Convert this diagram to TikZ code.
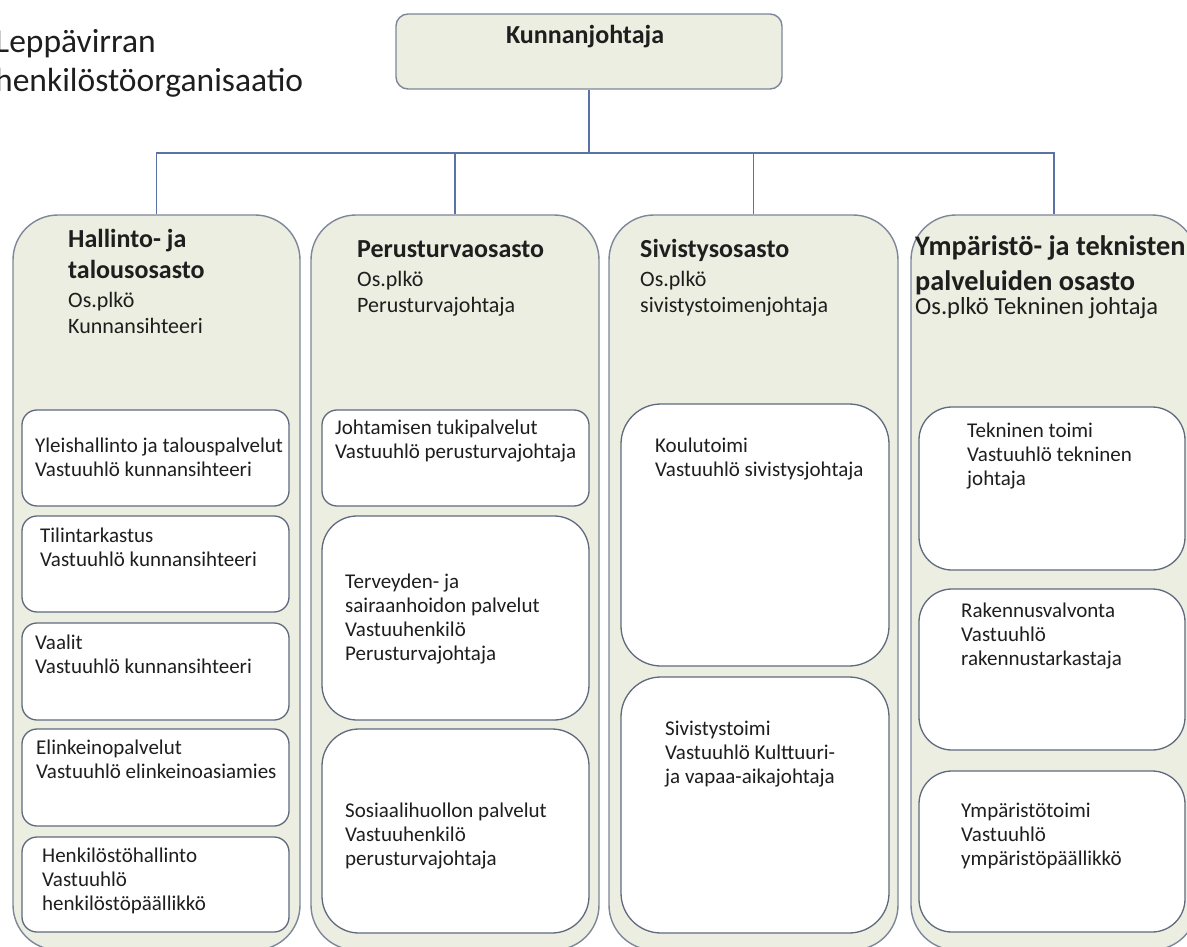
\documentclass[tikz,border=0pt]{standalone}
\usepackage{fontspec}
\setmainfont{Carlito}
\definecolor{colfill}{HTML}{EBEEE0}
\definecolor{colline}{HTML}{7D8799}
\definecolor{boxline}{HTML}{5F6A7E}
\definecolor{connc}{HTML}{5A72A6}
\definecolor{txt}{HTML}{1E1E1E}
\newcommand\titlefnt{\fontsize{33.5}{39}\selectfont}
\newcommand\hdfnt{\bfseries\fontsize{26}{31}\selectfont}
\newcommand\hdbigfnt{\bfseries\fontsize{28.3}{35}\selectfont}
\newcommand\subfnt{\fontsize{22}{26}\selectfont}
\newcommand\subbigfnt{\fontsize{24.5}{28}\selectfont}
\newcommand\inbfnt{\fontsize{21}{24}\selectfont}
\begin{document}
\begin{tikzpicture}[x=1pt,y=-1pt,
  colbox/.style={draw=colline, line width=1.4pt, fill=colfill, rounded corners=45pt, inner sep=0pt},
  topbox/.style={draw=colline, line width=1.4pt, fill=colfill, rounded corners=12pt, inner sep=0pt},
  inbox/.style={draw=boxline, line width=1.3pt, fill=white, rounded corners=#1, inner sep=0pt},
  inbox/.default=15pt,
  lbl/.style={anchor=north west, inner sep=0pt, align=left, text=txt},
  connline/.style={draw=connc, line width=1.2pt}
]
\useasboundingbox (0,0) rectangle (1187,947);
\clip (0,0) rectangle (1187,947);
\fill[white] (0,0) rectangle (1187,947);

% title
\node[lbl, font=\titlefnt] (title) at (-5,24.7) {\strut Leppävirran\\henkilöstöorganisaatio};

% top box
\node[topbox, minimum width=386pt, minimum height=75pt] (kj) at (589,51.5) {};
\node[anchor=base, inner sep=0pt, text=txt, font=\hdfnt] (kjt) at (585,44) {Kunnanjohtaja};

% columns
\node[colbox, minimum width=287pt, minimum height=735pt] (c1) at (156.5,582.5) {};
\node[colbox, minimum width=288pt, minimum height=735pt] (c2) at (455,582.5) {};
\node[colbox, minimum width=289pt, minimum height=735pt] (c3) at (753.5,582.5) {};
\node[colbox, minimum width=286pt, minimum height=735pt] (c4) at (1054,582.5) {};

% connectors
\coordinate (bus) at (589,153);
\draw[connline] (kj.south) -- (bus);
\draw[connline] (c1.north) -- (c1.north |- bus) -- (c4.north |- bus) -- (c4.north);
\draw[connline] (c2.north) -- (c2.north |- bus);
\draw[connline] (c3.north) -- (c3.north |- bus);

% column headings
\node[lbl, font=\hdfnt] (h1) at (68,225.3) {\strut Hallinto- ja\\talousosasto};
\node[lbl, font=\subfnt] (s1) at (68,288.8) {\strut Os.plkö\\Kunnansihteeri};
\node[lbl, font=\hdfnt] (h2) at (357,235.3) {\strut Perusturvaosasto};
\node[lbl, font=\subfnt] (s2) at (357,267.8) {\strut Os.plkö\\Perusturvajohtaja};
\node[lbl, font=\hdfnt] (h3) at (640,235.3) {\strut Sivistysosasto};
\node[lbl, font=\subfnt] (s3) at (640,267.8) {\strut Os.plkö\\sivistystoimenjohtaja};
\node[lbl, font=\hdbigfnt] (h4) at (915,230.5) {\strut Ympäristö- ja teknisten\\palveluiden osasto};
\node[lbl, font=\subbigfnt] (s4) at (915,294.4) {\strut Os.plkö Tekninen johtaja};

% inner boxes column 1
\node[inbox, minimum width=267pt, minimum height=96pt] (b11) at (155.5,458) {};
\node[inbox, minimum width=267pt, minimum height=96pt] (b12) at (155.5,564) {};
\node[inbox, minimum width=267pt, minimum height=97pt] (b13) at (155.5,671.5) {};
\node[inbox, minimum width=267pt, minimum height=97pt] (b14) at (155.5,777.5) {};
\node[inbox, minimum width=267pt, minimum height=95pt] (b15) at (155.5,884.5) {};
% column 2
\node[inbox, minimum width=267pt, minimum height=96pt] (b21) at (455.5,458) {};
\node[inbox=35pt, minimum width=267pt, minimum height=204pt] (b22) at (455.5,618) {};
\node[inbox=37pt, minimum width=267pt, minimum height=204pt] (b23) at (455.5,831) {};
% column 3
\node[inbox=40pt, minimum width=268pt, minimum height=262pt] (b31) at (755,535) {};
\node[inbox=40pt, minimum width=268pt, minimum height=256pt] (b32) at (755,805) {};
% column 4
\node[inbox=33pt, minimum width=266pt, minimum height=163pt] (b41) at (1052,488.5) {};
\node[inbox=33pt, minimum width=266pt, minimum height=161pt] (b42) at (1052,669.5) {};
\node[inbox=33pt, minimum width=266pt, minimum height=161pt] (b43) at (1052,851.5) {};

% inner texts
\node[lbl, font=\inbfnt] (t11) at (35,435.2) {\strut Yleishallinto ja talouspalvelut\\Vastuuhlö kunnansihteeri};
\node[lbl, font=\inbfnt] (t12) at (40,525.2) {\strut Tilintarkastus\\Vastuuhlö kunnansihteeri};
\node[lbl, font=\inbfnt] (t13) at (35,632.2) {\strut Vaalit\\Vastuuhlö kunnansihteeri};
\node[lbl, font=\inbfnt] (t14) at (36,737.2) {\strut Elinkeinopalvelut\\Vastuuhlö elinkeinoasiamies};
\node[lbl, font=\inbfnt] (t15) at (42,845.2) {\strut Henkilöstöhallinto\\Vastuuhlö\\henkilöstöpäällikkö};
\node[lbl, font=\inbfnt] (t21) at (335,417.2) {\strut Johtamisen tukipalvelut\\Vastuuhlö perusturvajohtaja};
\node[lbl, font=\inbfnt] (t22) at (345,571.2) {\strut Terveyden- ja\\sairaanhoidon palvelut\\Vastuuhenkilö\\Perusturvajohtaja};
\node[lbl, font=\inbfnt] (t23) at (345,800.2) {\strut Sosiaalihuollon palvelut\\Vastuuhenkilö\\perusturvajohtaja};
\node[lbl, font=\inbfnt] (t31) at (655,435.2) {\strut Koulutoimi\\Vastuuhlö sivistysjohtaja};
\node[lbl, font=\inbfnt] (t32) at (665,718.2) {\strut Sivistystoimi\\Vastuuhlö Kulttuuri-\\ja vapaa-aikajohtaja};
\node[lbl, font=\inbfnt] (t41) at (967,420.2) {\strut Tekninen toimi\\Vastuuhlö tekninen\\johtaja};
\node[lbl, font=\inbfnt] (t42) at (961,600.2) {\strut Rakennusvalvonta\\Vastuuhlö\\rakennustarkastaja};
\node[lbl, font=\inbfnt] (t43) at (961,800.2) {\strut Ympäristötoimi\\Vastuuhlö\\ympäristöpäällikkö};
\end{tikzpicture}
\end{document}
